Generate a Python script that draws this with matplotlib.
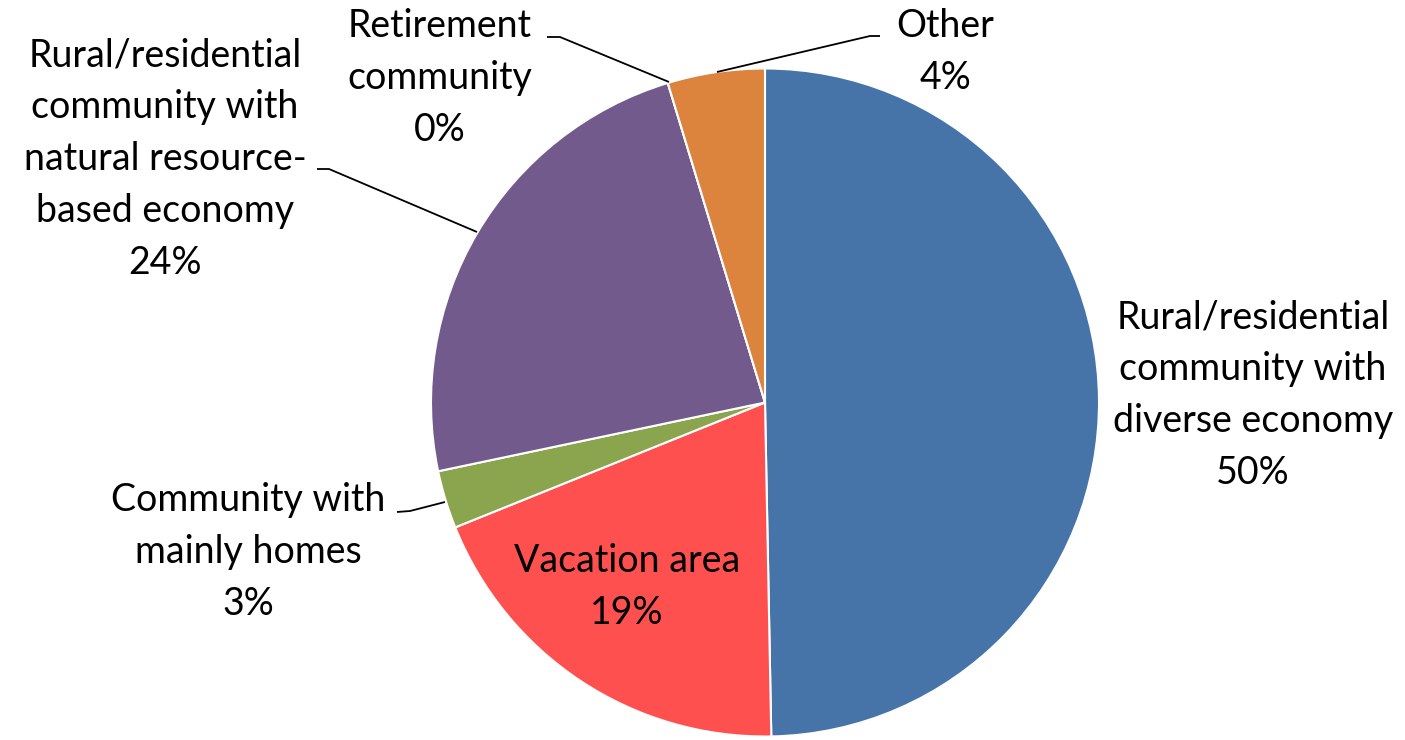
import matplotlib
matplotlib.use("Agg")
import matplotlib.pyplot as plt

# slice shares (clockwise from 12 o'clock)
categories = ["Rural/residential community with diverse economy",
              "Vacation area",
              "Community with mainly homes",
              "Rural/residential community with natural resource-based economy",
              "Retirement community",
              "Other"]
shares = [49.7, 19.2, 2.8, 23.6, 0.0, 4.7]
pct_labels = ["50%", "19%", "3%", "24%", "0%", "4%"]
label_text = ["Rural/residential\ncommunity with\ndiverse economy",
              "Vacation area",
              "Community with\nmainly homes",
              "Rural/residential\ncommunity with\nnatural resource-\nbased economy",
              "Retirement\ncommunity",
              "Other"]
colors = ["#4674A8", "#FF5050", "#8BA54F", "#735A8D", "#A0A0A0", "#DC843E"]

W, H = 1405, 740
plt.rcParams['font.family'] = ['Lato', 'DejaVu Sans']

fig = plt.figure(figsize=(W / 100, H / 100), dpi=100)
ax = fig.add_axes([0, 0, 1, 1])

cx, cy, r = 765, 402.5, 334


def Y(py):
    return H - py


ax.pie(shares, colors=colors, startangle=90, counterclock=False,
       center=(cx, Y(cy)), radius=r,
       wedgeprops=dict(edgecolor="white", linewidth=1.5))
ax.set_xlim(0, W)
ax.set_ylim(0, H)
ax.set_aspect('equal')
ax.axis('off')

# label centres in pixel coords
label_pos = [(1253, 395), (627, 587), (248, 552), (165, 159), (440, 78), (945, 52)]
fs = 27
for txt, pct, (px, py) in zip(label_text, pct_labels, label_pos):
    ax.text(px, Y(py), txt + "\n" + pct, ha='center', va='center',
            fontsize=fs, linespacing=1.55, color='black')

# leader lines
leaders = [
    [(397, 512), (410, 511), (445, 502)],
    [(317, 169), (329, 169), (477, 232)],
    [(547, 37), (560, 37), (669, 82)],
    [(880, 36), (870, 36), (717, 72)],
]
for pts in leaders:
    xs = [p[0] for p in pts]
    ys = [Y(p[1]) for p in pts]
    ax.plot(xs, ys, color='black', lw=1.3, solid_capstyle='butt')

fig.savefig("out.png", dpi=100)
